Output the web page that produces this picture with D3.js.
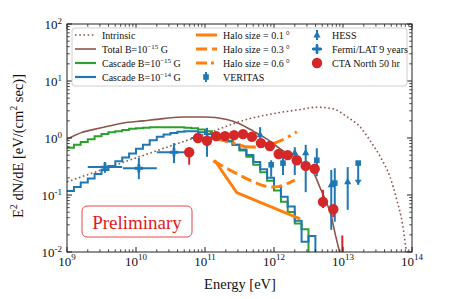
<!DOCTYPE html>
<html><head><meta charset="utf-8">
<script src="https://cdn.jsdelivr.net/npm/d3@7"></script>
<style>body{margin:0;background:#fff}svg{display:block}text{font-family:"Liberation Serif","DejaVu Serif",serif}</style>
</head><body><svg id="c" width="449" height="299"></svg>
<script>
// ---------------- DATA ----------------
const xTickExp = [9, 10, 11, 12, 13, 14];
const yTickExp = [-2, -1, 0, 1, 2];

// intrinsic spectrum (dotted)
const intrinsicE = [1e9, 1e10, 1e11, 4.47e11, 1e12, 2.4e12, 4.17e12, 7.24e12, 1.15e13, 1.78e13, 2.45e13, 3.47e13, 4.79e13, 6.03e13, 7.24e13, 8.13e13, 8.9e13];
const intrinsicF = [0.17, 0.447, 1.17, 2.19, 2.69, 3.16, 3.47, 3.24, 2.34, 1.55, 0.912, 0.468, 0.209, 0.0813, 0.0324, 0.0123, 0.0063];

// total B=1e-15 G
const totalE = [1e9, 1.58e9, 3.16e9, 6.31e9, 1.26e10, 2.51e10, 5.01e10, 1e11, 2e11, 3.16e11, 5.01e11, 7.94e11, 1.26e12, 2e12, 2.82e12, 3.72e12, 4.68e12, 5.62e12, 6.61e12, 7.76e12, 9.12e12];
const totalF = [0.955, 1.23, 1.51, 1.82, 2.0, 2.19, 2.34, 2.34, 2.14, 1.78, 1.32, 0.955, 0.631, 0.457, 0.339, 0.251, 0.132, 0.0794, 0.0468, 0.02, 0.0089];

// cascade histograms: bin edges (0.1 decade)
const binEdges = [1e9, 1.26e9, 1.58e9, 2e9, 2.51e9, 3.16e9, 3.98e9, 5.01e9, 6.31e9, 7.94e9,
  1e10, 1.26e10, 1.58e10, 2e10, 2.51e10, 3.16e10, 3.98e10, 5.01e10, 6.31e10, 7.94e10,
  1e11, 1.26e11, 1.58e11, 2e11, 2.51e11, 3.16e11, 3.98e11, 5.01e11, 6.31e11, 7.94e11,
  1e12, 1.26e12, 1.58e12, 2e12, 2.51e12, 3.16e12, 3.98e12];
const cascade15F = [0.676, 0.759, 0.851, 0.955, 1.07, 1.17, 1.26, 1.32, 1.38, 1.45,
  1.48, 1.51, 1.55, 1.55, 1.55, 1.55, 1.55, 1.51, 1.48, 1.41,
  1.32, 1.17, 1.0, 0.891, 0.759, 0.603, 0.468, 0.339, 0.251, 0.178,
  0.120, 0.0759, 0.0501, 0.0316, 0.0251];
const cascade14F = [0.117, 0.138, 0.166, 0.195, 0.234, 0.275, 0.324, 0.389, 0.457, 0.537,
  0.646, 0.759, 0.912, 1.05, 1.15, 1.23, 1.29, 1.32, 1.32, 1.26,
  1.17, 1.07, 0.955, 0.871, 0.759, 0.631, 0.501, 0.380, 0.282, 0.200,
  0.138, 0.0933, 0.0631, 0.0355, 0.0151, 0.0191];

// halo curves
const halo01E = [1.38e11, 2.88e11, 6.31e11, 2.4e12];
const halo01F = [0.407, 0.110, 0.0741, 0.038];
const halo03E = [1.32e11, 2.29e11, 4.47e11, 7.08e11, 1e12, 2e12];
const halo03F = [0.398, 0.275, 0.182, 0.145, 0.138, 0.182];
const halo06E = [1.26e11, 2.29e11, 4.47e11, 7.08e11, 1.23e12, 2.14e12];
const halo06F = [1.0, 0.851, 0.692, 0.724, 0.891, 1.29];

// VERITAS
const verE = [9.1e11, 1.35e12, 4.17e12, 7.6e12, 1.66e13];
const verF = [0.339, 0.363, 0.407, 0.162, 0.363];
const verLo = [0.209, 0.224, 0.214, 0.034, 0.151];
const verHi = [0.407, 0.562, 0.66, 0.295, 0.363];
const verUL = [false, false, false, false, true];

// HESS
const hessE = [6.3e11, 2.0e12, 2.88e12, 6.76e12, 1.17e13];
const hessF = [1.13, 0.55, 0.55, 0.151, 0.17];
const hessLo = [0.81, 0.224, 0.112, 0.0245, 0.055];
const hessHi = [1.55, 0.69, 0.76, 0.275, 0.309];

// Fermi/LAT 9 years
const fermiE = [3.55e9, 1.1e10, 3.55e10, 1.07e11];
const fermiF = [0.309, 0.295, 0.562, 1.0];
const fermiELo = [2.0e9, 6.46e9, 2.0e10, 6.3e10];
const fermiEHi = [6.3e9, 2.0e10, 5.6e10, 1.8e11];
const fermiLo = [0.245, 0.19, 0.363, 0.468];
const fermiHi = [0.38, 0.447, 0.813, 1.51];

// CTA North 50 hr
const ctaE = [5.9e10, 7.9e10, 1.07e11, 1.45e11, 1.95e11, 2.63e11, 3.55e11, 4.79e11, 6.46e11, 8.71e11, 1.17e12, 1.58e12, 2.14e12, 2.88e12, 3.89e12, 5.13e12, 7.24e12, 9.77e12];
const ctaF = [0.562, 1.0, 0.891, 1.08, 1.08, 1.12, 1.17, 1.05, 0.813, 0.724, 0.525, 0.501, 0.407, 0.324, 0.288, 0.0759, 0.0562, 0.0079];
const ctaLo = [0.34, 0.9, 0.8, 1.0, 1.0, 1.04, 1.09, 0.97, 0.75, 0.66, 0.48, 0.45, 0.37, 0.29, 0.26, 0.059, 0.041, 0.005];
const ctaHi = [0.69, 1.1, 0.98, 1.17, 1.17, 1.21, 1.26, 1.13, 0.88, 0.79, 0.58, 0.55, 0.45, 0.36, 0.32, 0.123, 0.066, 0.0195];

// ---------------- CHART ----------------
const L = 67, R = 412, T = 24, B = 252;
const C = {brown: '#8c564b', green: '#2ca02c', blue: '#1f77b4', orange: '#ff7f0e', red: '#d62728'};
const x = d3.scaleLog().domain([1e9, 1e14]).range([L, R]);
const y = d3.scaleLog().domain([1e-2, 1e2]).range([B, T]);
const svg = d3.select('#c');
svg.append('defs').append('clipPath').attr('id', 'clip')
  .append('rect').attr('x', L).attr('y', T).attr('width', R - L).attr('height', B - T);
const g = svg.append('g').attr('clip-path', 'url(#clip)');

const zip = (a, b) => a.map((v, i) => [v, b[i]]);
const smooth = d3.line().x(d => x(d[0])).y(d => y(d[1])).curve(d3.curveMonotoneX);
const straight = d3.line().x(d => x(d[0])).y(d => y(d[1]));
const step = d3.line().x(d => x(d[0])).y(d => y(d[1])).curve(d3.curveStepAfter);

function hist(vals) {
  const pts = vals.map((v, i) => [binEdges[i], v]);
  pts.push([binEdges[vals.length], 1e-3]);
  return pts;
}

g.append('path').attr('d', smooth(zip(intrinsicE, intrinsicF))).attr('fill', 'none')
  .attr('stroke', C.brown).attr('stroke-width', 1.6).attr('stroke-dasharray', '1.6,2.6');
g.append('path').attr('d', smooth(zip(totalE, totalF))).attr('fill', 'none')
  .attr('stroke', C.brown).attr('stroke-width', 1.6);
g.append('path').attr('d', step(hist(cascade15F))).attr('fill', 'none')
  .attr('stroke', C.green).attr('stroke-width', 2);
g.append('path').attr('d', step(hist(cascade14F))).attr('fill', 'none')
  .attr('stroke', C.blue).attr('stroke-width', 2);

g.append('path').attr('d', straight(zip(halo01E, halo01F))).attr('fill', 'none')
  .attr('stroke', C.orange).attr('stroke-width', 3);
g.append('path').attr('d', smooth(zip(halo03E, halo03F))).attr('fill', 'none')
  .attr('stroke', C.orange).attr('stroke-width', 3).attr('stroke-dasharray', '11,5');
g.append('path').attr('d', smooth(zip(halo06E, halo06F))).attr('fill', 'none')
  .attr('stroke', C.orange).attr('stroke-width', 3).attr('stroke-dasharray', '16,5,3,5');

function vbar(sel, xe, lo, hi, col, w) {
  sel.append('line').attr('x1', x(xe)).attr('x2', x(xe)).attr('y1', y(lo)).attr('y2', y(hi))
    .attr('stroke', col).attr('stroke-width', w);
}
function tri(sel, cx, cy, s, col) {
  sel.append('path').attr('d', `M${cx},${cy - s}L${cx + s * 0.9},${cy + s * 0.6}L${cx - s * 0.9},${cy + s * 0.6}Z`).attr('fill', col);
}

// VERITAS
verE.forEach((e, i) => {
  vbar(g, e, verLo[i], verHi[i], C.blue, 2);
  g.append('rect').attr('x', x(e) - 2.8).attr('y', y(verF[i]) - 2.8).attr('width', 5.6).attr('height', 5.6).attr('fill', C.blue);
  if (verUL[i]) {
    const cx = x(e), cy = y(verLo[i]);
    g.append('path').attr('d', `M${cx - 3.5},${cy - 5}L${cx + 3.5},${cy - 5}L${cx},${cy}Z`).attr('fill', C.blue);
  }
});
// HESS
hessE.forEach((e, i) => {
  vbar(g, e, hessLo[i], hessHi[i], C.blue, 2);
  tri(g, x(e), y(hessF[i]), 4, C.blue);
});
// Fermi
fermiE.forEach((e, i) => {
  vbar(g, e, fermiLo[i], fermiHi[i], C.blue, 2);
  g.append('line').attr('x1', x(fermiELo[i])).attr('x2', x(fermiEHi[i])).attr('y1', y(fermiF[i])).attr('y2', y(fermiF[i]))
    .attr('stroke', C.blue).attr('stroke-width', 2);
  g.append('path').attr('d', d3.symbol(d3.symbolCross, 40)()).attr('transform', `translate(${x(e)},${y(fermiF[i])})`).attr('fill', C.blue);
});
// CTA
ctaE.forEach((e, i) => {
  vbar(g, e, ctaLo[i], ctaHi[i], C.red, 2);
  g.append('circle').attr('cx', x(e)).attr('cy', y(ctaF[i])).attr('r', 5.2).attr('fill', C.red);
});

// ---------------- AXES ----------------
const frame = svg.append('g');
frame.append('rect').attr('x', L).attr('y', T).attr('width', R - L).attr('height', B - T)
  .attr('fill', 'none').attr('stroke', '#222').attr('stroke-width', 1);
const minorK = [2, 3, 4, 5, 6, 7, 8, 9];
xTickExp.forEach((p, i) => {
  const v = Math.pow(10, p);
  const px = x(v);
  frame.append('line').attr('x1', px).attr('x2', px).attr('y1', B).attr('y2', B - 5).attr('stroke', '#222');
  frame.append('line').attr('x1', px).attr('x2', px).attr('y1', T).attr('y2', T + 5).attr('stroke', '#222');
  if (i < xTickExp.length - 1) minorK.forEach(k => {
    const mx = x(v * k);
    frame.append('line').attr('x1', mx).attr('x2', mx).attr('y1', B).attr('y2', B - 2.8).attr('stroke', '#222').attr('stroke-width', 0.8);
    frame.append('line').attr('x1', mx).attr('x2', mx).attr('y1', T).attr('y2', T + 2.8).attr('stroke', '#222').attr('stroke-width', 0.8);
  });
  const t = svg.append('text').attr('x', px).attr('y', 265.5).attr('text-anchor', 'middle').attr('fill', '#111');
  t.append('tspan').attr('font-size', 13).text('10');
  t.append('tspan').attr('font-size', 9).attr('dy', -5.5).text(String(p));
});
yTickExp.forEach((p, i) => {
  const v = Math.pow(10, p);
  const py = y(v);
  frame.append('line').attr('x1', L).attr('x2', L + 5).attr('y1', py).attr('y2', py).attr('stroke', '#222');
  frame.append('line').attr('x1', R).attr('x2', R - 5).attr('y1', py).attr('y2', py).attr('stroke', '#222');
  if (i < yTickExp.length - 1) minorK.forEach(k => {
    const my = y(v * k);
    frame.append('line').attr('x1', L).attr('x2', L + 2.8).attr('y1', my).attr('y2', my).attr('stroke', '#222').attr('stroke-width', 0.8);
    frame.append('line').attr('x1', R).attr('x2', R - 2.8).attr('y1', my).attr('y2', my).attr('stroke', '#222').attr('stroke-width', 0.8);
  });
  const t = svg.append('text').attr('x', 62).attr('y', py + 5).attr('text-anchor', 'end').attr('fill', '#111');
  t.append('tspan').attr('font-size', 13).text('10');
  t.append('tspan').attr('font-size', 9).attr('dy', -5.5).text(p < 0 ? '-' + Math.abs(p) : String(p));
});

// axis labels
svg.append('text').attr('x', 240).attr('y', 289).attr('text-anchor', 'middle').attr('font-size', 14.5).attr('fill', '#111').text('Energy [eV]');
const yl = svg.append('text').attr('transform', 'translate(23,146) rotate(-90)').attr('text-anchor', 'middle').attr('font-size', 14.5).attr('fill', '#111');
yl.append('tspan').text('E');
yl.append('tspan').attr('font-size', 10).attr('dy', -6).text('2');
yl.append('tspan').attr('dy', 6).text(' dN/dE [eV/(cm');
yl.append('tspan').attr('font-size', 10).attr('dy', -6).text('2');
yl.append('tspan').attr('dy', 6).text(' sec)]');

// ---------------- LEGEND ----------------
const lg = svg.append('g');
lg.append('rect').attr('x', 72).attr('y', 28).attr('width', 335).attr('height', 58).attr('rx', 3)
  .attr('fill', '#fff').attr('fill-opacity', 0.85).attr('stroke', '#d0d0d0').attr('stroke-width', 1);
const rows = [35, 49, 63, 77];
function legText(xp, yp, parts) {
  const t = lg.append('text').attr('x', xp).attr('y', yp + 3.5).attr('font-size', 10).attr('fill', '#111');
  let up = false;
  parts.forEach(([s, sup]) => {
    const ts = t.append('tspan').text(s);
    if (sup) { ts.attr('font-size', 7).attr('dy', -4); up = true; }
    else { if (up) ts.attr('dy', 4); up = false; }
  });
}
function legLine(x0, yp, col, w, dash) {
  const l = lg.append('line').attr('x1', x0).attr('x2', x0 + 21).attr('y1', yp).attr('y2', yp).attr('stroke', col).attr('stroke-width', w);
  if (dash) l.attr('stroke-dasharray', dash);
}
legLine(75, rows[0], C.brown, 1.6, '1.6,2.6');
legText(102, rows[0], [['Intrinsic']]);
legLine(75, rows[1], C.brown, 1.6);
legText(102, rows[1], [['Total B=10'], ['\u221215', true], [' G']]);
legLine(75, rows[2], C.green, 2.2);
legText(102, rows[2], [['Cascade B=10'], ['\u221215', true], [' G']]);
legLine(75, rows[3], C.blue, 2.2);
legText(102, rows[3], [['Cascade B=10'], ['\u221214', true], [' G']]);

legLine(196, rows[0], C.orange, 3);
legText(223, rows[0], [['Halo size = 0.1\u2009\u00b0']]);
legLine(196, rows[1], C.orange, 3, '11,5');
legText(223, rows[1], [['Halo size = 0.3\u2009\u00b0']]);
legLine(196, rows[2], C.orange, 3, '11,4,3,4');
legText(223, rows[2], [['Halo size = 0.6\u2009\u00b0']]);
// VERITAS marker
lg.append('line').attr('x1', 206).attr('x2', 206).attr('y1', rows[3] - 5).attr('y2', rows[3] + 5).attr('stroke', C.blue).attr('stroke-width', 2);
lg.append('rect').attr('x', 203.2).attr('y', rows[3] - 2.8).attr('width', 5.6).attr('height', 5.6).attr('fill', C.blue);
legText(223, rows[3], [['VERITAS']]);

// HESS marker
lg.append('line').attr('x1', 317).attr('x2', 317).attr('y1', rows[0] - 5).attr('y2', rows[0] + 5).attr('stroke', C.blue).attr('stroke-width', 2);
tri(lg, 317, rows[0], 4, C.blue);
legText(332, rows[0], [['HESS']]);
// Fermi marker
lg.append('line').attr('x1', 317).attr('x2', 317).attr('y1', rows[1] - 5).attr('y2', rows[1] + 5).attr('stroke', C.blue).attr('stroke-width', 2);
lg.append('line').attr('x1', 312).attr('x2', 322).attr('y1', rows[1]).attr('y2', rows[1]).attr('stroke', C.blue).attr('stroke-width', 2);
lg.append('path').attr('d', d3.symbol(d3.symbolCross, 40)()).attr('transform', `translate(317,${rows[1]})`).attr('fill', C.blue);
legText(332, rows[1], [['Fermi/LAT 9 years']]);
// CTA marker
lg.append('circle').attr('cx', 317).attr('cy', rows[2]).attr('r', 5.2).attr('fill', C.red);
legText(332, rows[2], [['CTA North 50 hr']]);

// ---------------- PRELIMINARY ----------------
svg.append('rect').attr('x', 82).attr('y', 206).attr('width', 110).attr('height', 31).attr('rx', 5)
  .attr('fill', '#fff').attr('stroke', '#e8474b').attr('stroke-width', 1);
svg.append('text').attr('x', 137).attr('y', 228.5).attr('text-anchor', 'middle').attr('font-size', 19)
  .attr('fill', '#e41a1c').text('Preliminary');
</script></body></html>
